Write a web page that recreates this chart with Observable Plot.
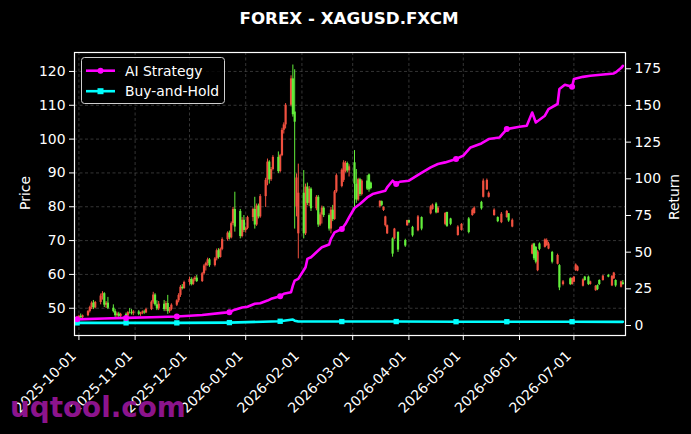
<!DOCTYPE html>
<html><head><meta charset="utf-8">
<script src="https://cdn.jsdelivr.net/npm/d3@7"></script>
<script src="https://cdn.jsdelivr.net/npm/@observablehq/plot@0.6"></script>
<style>
html,body{margin:0;padding:0;background:#000;}
#wrap{position:relative;width:691px;height:434px;background:#000;overflow:hidden;font-family:"DejaVu Sans",sans-serif;}
#wrap svg{position:absolute;left:0;top:0;}
</style></head><body><div id="wrap"></div>
<script>
// ---- Candles (daily OHLC) ----
const dates = [
"2025-09-30","2025-10-01","2025-10-02","2025-10-03","2025-10-06","2025-10-07","2025-10-08","2025-10-09","2025-10-10",
"2025-10-13","2025-10-14","2025-10-15","2025-10-16","2025-10-17","2025-10-20","2025-10-21","2025-10-22","2025-10-23","2025-10-24",
"2025-10-27","2025-10-28","2025-10-29","2025-10-30","2025-10-31",
"2025-11-03","2025-11-04","2025-11-05","2025-11-06","2025-11-07","2025-11-10","2025-11-11","2025-11-12","2025-11-13","2025-11-14",
"2025-11-17","2025-11-18","2025-11-19","2025-11-20","2025-11-21","2025-11-24","2025-11-25","2025-11-26","2025-11-27","2025-11-28",
"2025-12-01","2025-12-02","2025-12-03","2025-12-04","2025-12-05","2025-12-08","2025-12-09","2025-12-10","2025-12-11","2025-12-12",
"2025-12-15","2025-12-16","2025-12-17","2025-12-18","2025-12-19","2025-12-22","2025-12-23","2025-12-24","2025-12-25","2025-12-26",
"2025-12-29","2025-12-30","2025-12-31",
"2026-01-01","2026-01-02","2026-01-05","2026-01-06","2026-01-07","2026-01-08","2026-01-09","2026-01-12","2026-01-13","2026-01-14",
"2026-01-15","2026-01-16","2026-01-19","2026-01-20","2026-01-21","2026-01-22","2026-01-23","2026-01-26","2026-01-27","2026-01-28",
"2026-01-29","2026-01-30",
"2026-02-02","2026-02-03","2026-02-04","2026-02-05","2026-02-06","2026-02-09","2026-02-10","2026-02-11","2026-02-12","2026-02-13",
"2026-02-16","2026-02-17","2026-02-18","2026-02-19","2026-02-20","2026-02-23","2026-02-24","2026-02-25","2026-02-26","2026-02-27",
"2026-03-02","2026-03-03","2026-03-04","2026-03-05","2026-03-06","2026-03-09","2026-03-10","2026-03-11",
"2026-03-16","2026-03-17","2026-03-18","2026-03-19","2026-03-20","2026-03-23","2026-03-24","2026-03-26","2026-03-30","2026-03-31",
"2026-04-01","2026-04-03","2026-04-06","2026-04-08","2026-04-13","2026-04-14","2026-04-16","2026-04-17","2026-04-21","2026-04-22",
"2026-04-24","2026-04-28","2026-04-30",
"2026-05-04","2026-05-06","2026-05-07","2026-05-11","2026-05-12","2026-05-14","2026-05-15","2026-05-18","2026-05-20","2026-05-22",
"2026-05-25","2026-05-26","2026-05-28",
"2026-06-08","2026-06-09","2026-06-10","2026-06-11","2026-06-12","2026-06-15","2026-06-16","2026-06-17","2026-06-19","2026-06-22",
"2026-06-23","2026-06-25","2026-06-29","2026-06-30",
"2026-07-01","2026-07-02","2026-07-03","2026-07-06","2026-07-07","2026-07-09","2026-07-10","2026-07-13","2026-07-14","2026-07-15",
"2026-07-17","2026-07-20","2026-07-22","2026-07-23","2026-07-24","2026-07-27","2026-07-28"
];
const open = [
46.8,47.0,47.6,47.2,47.8,49.0,50.2,51.5,50.1,
51.7,53.6,54.3,50.9,51.5,50.0,49.0,47.8,48.3,47.6,
48.2,47.7,48.7,48.6,48.4,
48.9,48.2,48.5,48.9,48.6,49.6,51.8,53.9,51.0,49.8,
51.2,49.6,51.4,49.0,49.6,50.9,52.2,53.8,56.2,55.8,
57.6,58.5,57.0,58.4,58.9,57.9,60.2,62.5,63.2,64.3,
62.6,64.6,67.0,65.0,67.4,70.3,72.2,70.8,75.0,79.2,
78.6,71.2,76.0,
73.0,73.6,76.8,79.2,74.6,80.2,77.0,83.0,87.8,93.2,
88.0,91.0,94.6,90.4,95.1,102.6,104.2,110.0,117.8,108.0,
80.0,72.0,
84.0,72.0,85.8,81.0,85.2,79.4,82.8,74.6,77.6,79.6,
77.4,73.4,79.0,76.2,84.4,86.0,87.8,90.4,92.8,90.6,
93.0,86.7,82.0,88.0,83.6,87.6,89.4,87.0,
80.0,81.5,78.9,74.4,72.0,70.5,70.5,72.4,70.0,74.4,
75.9,73.9,72.9,76.8,77.9,79.2,80.8,78.2,74.8,78.3,
76.4,71.5,73.0,
76.4,77.4,78.0,81.3,82.8,85.0,82.8,77.4,76.8,75.3,
76.8,77.9,74.0,
66.0,69.0,68.0,61.1,69.0,68.0,68.5,67.5,66.5,63.0,
62.6,57.0,58.7,57.0,
57.7,61.1,61.0,56.5,59.2,59.2,57.0,55.2,56.7,58.2,
58.2,59.7,56.6,58.7,58.2,56.2,57.5
];
const high = [
47.6,47.9,48.3,48.0,49.3,50.6,51.9,52.3,52.0,
54.2,54.9,54.6,52.0,53.2,51.0,49.6,48.8,48.8,48.5,
48.6,49.0,49.9,49.6,49.3,
49.3,48.8,49.2,49.4,50.0,52.2,54.7,54.3,52.2,52.0,
52.3,52.0,53.8,50.2,51.3,52.5,54.3,56.7,57.0,58.0,
59.2,59.0,58.9,59.4,59.7,60.6,62.9,63.6,64.8,64.7,
65.0,67.5,67.6,67.8,70.8,72.6,72.8,75.5,79.8,84.3,
79.2,76.8,77.4,
74.0,77.2,79.6,82.8,80.8,80.8,83.6,88.4,94.1,93.6,
91.6,95.1,96.2,95.5,103.2,104.8,110.5,118.7,121.9,120.5,
89.7,92.6,
90.7,86.7,87.0,86.0,85.6,83.3,83.3,78.2,80.2,80.0,
77.9,79.8,80.4,84.8,89.7,91.2,93.6,93.4,93.2,92.4,
96.6,91.0,88.4,88.4,88.0,89.2,89.7,87.3,
81.8,81.7,80.0,77.2,74.6,70.8,73.6,72.6,70.4,76.0,
76.0,74.2,77.4,77.0,80.3,80.8,81.2,80.0,78.3,78.4,
76.6,74.4,75.0,
76.8,79.4,80.0,81.6,88.2,88.2,84.4,79.4,77.0,78.3,
78.9,78.0,76.4,
69.0,69.2,68.2,67.0,69.3,70.5,70.5,69.5,66.8,66.0,
62.9,58.2,59.0,59.0,
59.4,63.1,62.5,58.7,59.4,59.5,58.0,56.7,56.9,58.4,
59.7,60.0,59.7,60.6,58.4,58.0,58.2
];
const low = [
46.4,46.6,47.0,46.8,47.5,48.6,49.6,49.6,49.8,
51.0,52.4,50.2,49.9,49.6,48.6,47.3,47.3,47.2,47.2,
47.3,47.5,48.3,48.0,47.8,
47.8,47.6,48.1,48.2,48.4,49.3,51.2,50.6,49.3,49.3,
49.0,49.0,48.2,48.5,49.2,50.5,51.6,53.2,55.4,55.6,
56.8,56.6,56.7,57.8,57.6,57.6,59.8,61.0,62.4,62.1,
62.2,64.0,64.5,64.8,67.0,69.8,70.2,70.5,74.4,72.5,
70.5,70.8,72.4,
72.2,73.2,75.6,73.4,74.2,76.4,76.6,79.8,86.2,86.7,
87.5,90.6,89.8,90.0,94.8,101.5,103.0,109.5,106.5,73.4,
77.0,64.6,
70.5,71.5,80.3,80.0,78.6,78.8,73.9,74.2,74.9,76.8,
72.8,72.0,75.6,76.0,84.0,85.6,87.2,90.0,90.0,88.8,
79.8,81.0,81.6,83.0,83.2,84.8,84.3,85.0,
79.6,80.0,78.6,74.0,71.8,65.1,70.2,66.5,68.0,74.2,
75.0,71.0,72.6,72.9,77.6,79.0,77.9,78.0,74.4,73.9,
74.4,71.3,72.8,
72.0,77.2,77.8,79.0,82.6,84.8,82.6,77.2,75.3,75.0,
76.6,75.4,73.8,
65.8,64.1,63.1,60.8,67.0,67.8,68.3,67.3,63.1,62.8,
55.2,56.6,56.7,56.8,
57.5,60.9,60.8,56.3,58.0,56.7,56.8,55.0,55.2,56.7,
58.0,59.0,56.4,58.5,56.2,56.0,56.8
];
const close = [
47.0,47.6,47.2,47.8,49.0,50.2,51.5,50.1,51.7,
53.6,54.3,50.9,51.5,50.0,49.0,47.8,48.3,47.6,48.2,
47.7,48.7,48.6,48.4,48.9,
48.2,48.5,48.9,48.6,49.6,51.8,53.9,51.0,49.8,51.2,
49.6,51.4,49.0,49.6,50.9,52.2,53.8,56.2,55.8,57.6,
58.5,57.0,58.4,58.9,57.9,60.2,62.5,63.2,64.3,62.6,
64.6,67.0,65.0,67.4,70.3,72.2,70.8,75.0,79.2,74.0,
71.2,76.0,73.0,
73.6,76.8,79.2,74.6,80.2,77.0,83.0,87.8,93.2,88.0,
91.0,94.6,90.4,95.1,102.6,104.2,110.0,117.8,107.2,105.0,
88.5,84.0,
72.0,85.8,81.0,85.2,79.4,82.8,74.6,77.6,79.6,77.4,
73.4,79.0,76.2,84.4,89.2,90.8,93.0,92.8,90.6,91.8,
86.7,82.0,88.0,83.6,87.6,85.2,85.0,85.4,
81.6,80.4,79.8,77.0,74.4,66.0,73.4,67.2,68.4,75.9,
75.2,71.4,77.0,73.4,80.0,80.5,78.2,79.6,78.0,74.2,
74.8,74.0,74.8,
72.4,79.0,79.6,79.4,87.6,87.8,84.0,79.0,75.6,77.8,
78.6,75.8,76.0,
68.6,64.6,63.6,66.6,67.4,70.2,70.0,69.0,63.6,65.6,
56.0,57.8,57.0,58.8,
59.2,62.8,62.2,58.4,58.2,57.0,57.8,56.5,55.5,57.0,
59.5,59.2,59.4,60.4,56.6,57.8,57.0
];

// ---- Strategy returns (%) ----
const aiDates = [
"2025-09-30","2025-10-15","2025-10-27","2025-11-10","2025-11-24","2025-12-08","2025-12-19","2025-12-23","2025-12-26","2025-12-30",
"2026-01-02","2026-01-06","2026-01-09","2026-01-13","2026-01-15","2026-01-20","2026-01-22","2026-01-26","2026-01-27","2026-01-28",
"2026-01-30","2026-02-03","2026-02-04","2026-02-06","2026-02-10","2026-02-12","2026-02-16","2026-02-17","2026-02-19","2026-02-23",
"2026-02-25","2026-02-27","2026-03-02","2026-03-05","2026-03-09","2026-03-12","2026-03-19","2026-03-20","2026-03-23","2026-03-25",
"2026-03-27","2026-04-01","2026-04-07","2026-04-13","2026-04-17","2026-04-21","2026-04-27","2026-05-01","2026-05-05","2026-05-11",
"2026-05-15","2026-05-21","2026-05-25","2026-06-01","2026-06-05","2026-06-08","2026-06-10","2026-06-15","2026-06-17","2026-06-22",
"2026-06-23","2026-06-26","2026-06-30","2026-07-01","2026-07-06","2026-07-10","2026-07-23","2026-07-24","2026-07-27","2026-07-28"
];
const aiReturn = [
4.2,4.8,5.2,5.6,6.1,7.2,8.6,9.1,10.8,12.3,
12.8,14.8,15.2,17.0,18.2,20.0,21.6,22.7,27.2,30.6,
31.8,39.7,45.4,46.5,51.1,53.3,55.2,59.0,63.5,65.8,
69.2,73.7,80.1,82.8,87.3,89.6,91.9,94.2,98.7,96.5,
98.0,98.7,103.3,107.8,110.1,111.2,113.5,115.8,121.4,124.1,
127.1,128.2,133.9,135.5,136.2,145.2,138.4,143.0,147.5,151.0,
161.2,164.1,162.7,168.0,169.5,170.2,171.8,172.5,175.5,177.0
];
const bhDates = [
"2025-09-30","2025-10-27","2025-11-24","2025-12-23","2026-01-20","2026-01-27","2026-01-28","2026-01-30","2026-02-23","2026-03-25",
"2026-04-27","2026-05-25","2026-06-30","2026-07-28"
];
const bhReturn = [1.8,1.8,1.8,2.0,2.9,4.1,3.3,2.7,2.7,2.7,2.6,2.6,2.6,2.5];
const markerDates = ["2025-09-30","2025-10-27","2025-11-24","2025-12-23","2026-01-20","2026-02-23","2026-03-25","2026-04-27","2026-05-25","2026-06-30"];

// ---- Axes ----
const priceTicks = [50,60,70,80,90,100,110,120];
const returnTicks = [0,25,50,75,100,125,150,175];
const monthTicks = ["2025-10-01","2025-11-01","2025-12-01","2026-01-01","2026-02-01","2026-03-01","2026-04-01","2026-05-01","2026-06-01","2026-07-01"];
const seriesNames = ["AI Strategy","Buy-and-Hold"];
const seriesColors = ["#ff00ff","#00ffff"];

// ---- Build ----
const RED = "#f0503f", GREEN = "#63ee3b";
const priceDomain = [41.94, 125.6];
const returnDomain = [-6.8, 186.1];
const k = (priceDomain[1]-priceDomain[0])/(returnDomain[1]-returnDomain[0]);
const toPrice = r => priceDomain[0] + (r - returnDomain[0]) * k;
const fromPrice = p => returnDomain[0] + (p - priceDomain[0]) / k;

const candles = dates.map((d,i)=>({date:new Date(d), open:open[i], high:high[i], low:low[i], close:close[i]}));
const ups = candles.filter(d=>d.close>=d.open), downs = candles.filter(d=>d.close<d.open);
const ai = aiDates.map((d,i)=>({date:new Date(d), p:toPrice(aiReturn[i])}));
const bh = bhDates.map((d,i)=>({date:new Date(d), p:toPrice(bhReturn[i])}));
const mset = new Set(markerDates);
const aiM = ai.filter((d,i)=>mset.has(aiDates[i]));
const bhM = bh.filter((d,i)=>mset.has(bhDates[i]));
const mTicks = monthTicks.map(d=>new Date(d));
const gridStyle = {stroke:"#8a8a8a", strokeOpacity:0.55, strokeWidth:0.7, strokeDasharray:"3,2.5"};

const chart = Plot.plot({
  width: 691, height: 434,
  marginLeft: 74, marginRight: 66, marginTop: 52, marginBottom: 99,
  style: {background:"#000", color:"#fff", fontFamily:"'DejaVu Sans', sans-serif", fontSize:"13.9px"},
  x: {type:"utc", domain:[new Date("2025-09-28T13:40Z"), new Date("2026-07-29T11:00Z")]},
  y: {domain: priceDomain},
  marks: [
    Plot.gridX(mTicks, gridStyle),
    Plot.gridY(priceTicks, gridStyle),
    Plot.ruleX(ups, {x:"date", y1:"low", y2:"high", stroke:RED, strokeWidth:1}),
    Plot.ruleX(downs, {x:"date", y1:"low", y2:"high", stroke:GREEN, strokeWidth:1}),
    Plot.ruleX(ups, {x:"date", y1:"open", y2:"close", stroke:RED, strokeWidth:2.2}),
    Plot.ruleX(downs, {x:"date", y1:"open", y2:"close", stroke:GREEN, strokeWidth:2.2}),
    Plot.line(bh, {x:"date", y:"p", stroke:seriesColors[1], strokeWidth:2.6}),
    Plot.dot(bhM, {x:"date", y:"p", symbol:"square", r:3, fill:seriesColors[1]}),
    Plot.line(ai, {x:"date", y:"p", stroke:seriesColors[0], strokeWidth:2.6}),
    Plot.dot(aiM, {x:"date", y:"p", r:3, fill:seriesColors[0]}),
    Plot.frame({stroke:"#fff", strokeWidth:1.2}),
    Plot.axisX(mTicks, {tickFormat:d3.utcFormat("%Y-%m-%d"), tickRotate:-45, tickSize:5, tickPadding:4, label:null}),
    Plot.axisY(priceTicks, {anchor:"left", tickSize:5, tickPadding:4, label:null}),
    Plot.axisY(returnTicks.map(toPrice), {anchor:"right", tickSize:5, tickPadding:4, label:null, tickFormat:v=>String(Math.round(fromPrice(v)))})
  ]
});
const wrap = document.getElementById("wrap");
wrap.appendChild(chart);
// shift rotated x tick labels to where the reference places them
d3.select(chart).selectAll("g[aria-label='x-axis tick label']").attr("transform", function(){
  const t = d3.select(this).attr("transform") || "";
  return t + " translate(-5,9)";
});

// overlay: title, axis titles, legend, watermark
const ov = d3.select(wrap).append("svg").attr("width",691).attr("height",434)
  .style("pointer-events","none").style("font-family","'DejaVu Sans', sans-serif");
ov.append("text").attr("x",349).attr("y",24).attr("text-anchor","middle").attr("fill","#fff")
  .style("font-size","16.7px").style("font-weight","bold").text("FOREX - XAGUSD.FXCM");
ov.append("text").attr("transform","translate(30,193) rotate(-90)").attr("text-anchor","middle").attr("fill","#fff")
  .style("font-size","13.9px").text("Price");
ov.append("text").attr("transform","translate(679,197) rotate(-90)").attr("text-anchor","middle").attr("fill","#fff")
  .style("font-size","13.9px").text("Return");
const lg = ov.append("g");
lg.append("rect").attr("x",81.5).attr("y",57.5).attr("width",143).attr("height",46).attr("rx",3)
  .attr("fill","#000").attr("fill-opacity",0.8).attr("stroke","#cfcfcf").attr("stroke-width",1);
seriesNames.forEach((name,i)=>{
  const y = 70.7 + i*20.5;
  lg.append("line").attr("x1",86).attr("x2",115).attr("y1",y).attr("y2",y).attr("stroke",seriesColors[i]).attr("stroke-width",2.6);
  if(i===0) lg.append("circle").attr("cx",100.5).attr("cy",y).attr("r",3).attr("fill",seriesColors[i]);
  else lg.append("rect").attr("x",97.5).attr("y",y-3).attr("width",6).attr("height",6).attr("fill",seriesColors[i]);
  lg.append("text").attr("x",125).attr("y",y+5).attr("fill","#fff").style("font-size","13.9px").text(name);
});
ov.append("text").attr("x",10).attr("y",417).attr("fill","#8c148c").style("font-size","27.8px").style("font-weight","bold").text("uqtool.com");
</script>
</body></html>
